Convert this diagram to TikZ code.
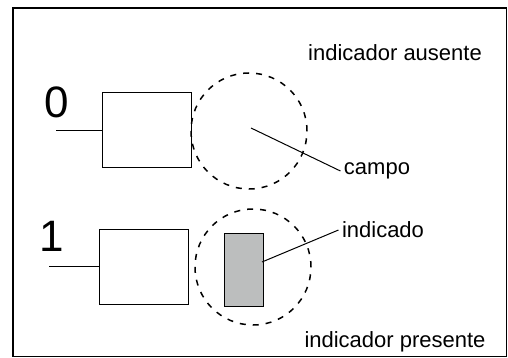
\documentclass[tikz,border=0pt]{standalone}
\usepackage{fontspec}
\setmainfont{Liberation Sans}
\usetikzlibrary{positioning}

\definecolor{indgray}{RGB}{188,190,190}

\tikzset{
  box/.style={draw,line width=1pt,minimum width=89pt,minimum height=75pt,inner sep=0pt},
  field/.style={draw,circle,line width=1.5pt,dash pattern=on 6pt off 7pt,minimum size=116pt,inner sep=0pt},
  indicbox/.style={draw,line width=1pt,fill=indgray,minimum width=39pt,minimum height=73pt,inner sep=0pt},
  digit/.style={font=\fontsize{44}{48}\selectfont,inner sep=0pt},
  label/.style={font=\fontsize{22}{26}\selectfont}
}

\begin{document}
\begin{tikzpicture}[x=1pt,y=-1pt]
  \useasboundingbox (0,0) rectangle (508,358);

  \draw [line width=1.3pt] (13,8) rectangle (506.5,356.5);

  % upper row
  \node [digit] (zero) at (57,102) {0};
  \node [box] (box0) at (146.5,130.5) {};
  \node [field] (field0) at (249,131) {};
  \coordinate (lead0) at (56,130.5);
  \draw [line width=1.2pt] (lead0) -- (box0.west);

  \node [label] (absent) at (395,53) {indicador ausente};
  \node [label] (campo) at (377,171) {campo};
  \coordinate (campotip) at (251,128);
  \draw [line width=1pt] (campotip) -- (campo.west);

  % lower row
  \node [digit] (one) at (52,236) {1};
  \node [box] (box1) at (143.5,266.5) {};
  \node [field] (field1) at (253,267) {};
  \node [indicbox] (ind) at (243.5,269.5) {};
  \coordinate (lead1) at (49,266.5);
  \draw [line width=1.2pt] (lead1) -- (box1.west);

  \node [label] (indicado) at (383,230) {indicado};
  \coordinate (indtip) at (262,262);
  \draw [line width=1pt] (indtip) -- (indicado.west);

  \node [label] (present) at (395,342) {indicador presente};
\end{tikzpicture}
\end{document}
